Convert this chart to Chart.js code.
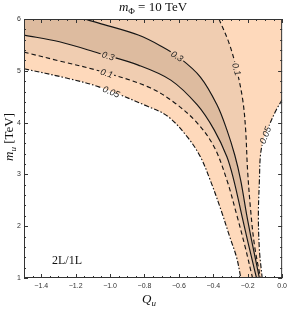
<!DOCTYPE html>
<html>
<head>
<meta charset="utf-8">
<script src="https://cdn.jsdelivr.net/npm/chart.js@4.4.1/dist/chart.umd.min.js"></script>
<style>
  html, body { margin: 0; padding: 0; background: #fff; }
  #c { display: block; }
</style>
</head>
<body>
<canvas id="c" width="291" height="309"></canvas>
<script>
// axis ticks
const qTicks = [-1.4, -1.2, -1.0, -0.8, -0.6, -0.4, -0.2, 0.0];
const mTicks = [1, 2, 3, 4, 5, 6];

// contours, [Q_u, m_u]
const c005left = [[-1.5, 5.04], [-1.254, 4.86], [-1.065, 4.69], [-0.779, 4.31], [-0.664, 4.12], [-0.55, 3.72],
  [-0.475, 3.34], [-0.418, 2.89], [-0.355, 2.31], [-0.304, 1.79], [-0.264, 1.39], [-0.24, 1.0]];
const c010left = [[-1.5, 5.36], [-1.294, 5.19], [-1.065, 5.0], [-0.779, 4.69], [-0.624, 4.38], [-0.493, 3.99],
  [-0.395, 3.53], [-0.321, 2.89], [-0.264, 2.22], [-0.218, 1.64], [-0.172, 1.0]];
const c030low = [[-1.5, 5.69], [-1.294, 5.56], [-1.065, 5.34], [-0.836, 5.11], [-0.647, 4.82], [-0.493, 4.34],
  [-0.395, 3.86], [-0.321, 3.34], [-0.281, 2.89], [-0.235, 2.22], [-0.195, 1.64], [-0.149, 1.0]];
const c030up = [[-1.151, 6.0], [-1.065, 5.92], [-0.836, 5.69], [-0.70, 5.47], [-0.60, 5.26], [-0.475, 4.88],
  [-0.378, 4.34], [-0.321, 3.86], [-0.275, 3.37], [-0.241, 2.89], [-0.206, 2.22], [-0.172, 1.64], [-0.132, 1.0]];
const c010right = [[-0.367, 6.0], [-0.309, 5.54], [-0.264, 5.02], [-0.229, 4.44], [-0.212, 3.86], [-0.201, 3.09],
  [-0.183, 2.31], [-0.161, 1.64], [-0.126, 1.0]];
const c005right = [[0, 4.44], [-0.035, 4.24], [-0.08, 3.91], [-0.109, 3.66], [-0.126, 3.37], [-0.132, 2.89],
  [-0.138, 2.22], [-0.132, 1.54], [-0.116, 1.0]];

// contour labels: text, curve, rough spot
const contourLabels = [
  {text: '0.3', curve: c030low, at: [-1.01, 5.30]},
  {text: '0.3', curve: c030up, at: [-0.607, 5.30]},
  {text: '0.1', curve: c010left, at: [-1.02, 4.95]},
  {text: '0.05', curve: c005left, at: [-0.99, 4.62]},
  {text: '0.1', curve: c010right, at: [-0.255, 5.04]},
  {text: '0.05', curve: c005right, at: [-0.10, 3.76]}
];

const TENSION = 0.35;
const toXY = arr => arr.map(p => ({x: p[0], y: p[1]}));
const rev = arr => arr.slice().reverse();
// repeat end points so the spline of a region edge matches the contour line
const dupEnds = c => [c[0]].concat(c, [c[c.length - 1]]);

// filled regions (closed shapes), corner points are the plot corners
const region005 = [[-1.5, 6]].concat(dupEnds(c005left), dupEnds(rev(c005right)), [[0, 6]]);
const region010 = [[-1.5, 6]].concat(dupEnds(c010left), dupEnds(rev(c010right)), [[0, 6]]);
const region030 = [[-1.5, 6]].concat(dupEnds(c030low), dupEnds(rev(c030up)), [[0, 6]]);

const lightCol = 'rgb(254,217,187)';
const midCol = 'rgb(240,205,177)';
const darkCol = 'rgb(221,187,159)';
const lineCol = '#151515';
const labelFont = 'italic 9px "Liberation Sans"';

function fillSet(pts, col, ord) {
  return {data: toXY(pts), fill: 'shape', backgroundColor: col, borderWidth: 0,
    borderColor: 'rgba(0,0,0,0)', pointRadius: 0, order: ord, clip: false, tension: TENSION};
}
function lineSet(pts, dash) {
  return {data: toXY(pts), fill: false, borderColor: lineCol, borderWidth: 1.15,
    borderDash: dash, pointRadius: 0, order: 0, contour: true, tension: TENSION};
}

function toPx(chart, p) {
  return [chart.scales.x.getPixelForValue(p[0]), chart.scales.y.getPixelForValue(p[1])];
}

function labelBoxes(chart) {
  const ctx = chart.ctx;
  ctx.save();
  ctx.font = labelFont;
  const boxes = contourLabels.map(function (l) {
    const p = toPx(chart, l.at);
    let best = null, bd = Infinity;
    for (let i = 0; i < l.curve.length - 1; i++) {
      const a = toPx(chart, l.curve[i]), b = toPx(chart, l.curve[i + 1]);
      const dx = b[0] - a[0], dy = b[1] - a[1];
      let t = ((p[0] - a[0]) * dx + (p[1] - a[1]) * dy) / (dx * dx + dy * dy);
      t = Math.max(0, Math.min(1, t));
      const qx = a[0] + t * dx, qy = a[1] + t * dy;
      const d = (qx - p[0]) ** 2 + (qy - p[1]) ** 2;
      if (d < bd) { bd = d; best = {x: qx, y: qy, ang: Math.atan2(dy, dx)}; }
    }
    let ang = best.ang;
    if (ang > Math.PI / 2) ang -= Math.PI;
    if (ang < -Math.PI / 2) ang += Math.PI;
    return {x: best.x, y: best.y, ang: ang, w: ctx.measureText(l.text).width + 3, h: 9, text: l.text};
  });
  ctx.restore();
  return boxes;
}

// break the contour lines under their labels
const contourLabelPlugin = {
  id: 'contourLabels',
  beforeDatasetDraw(chart, args) {
    if (!chart.data.datasets[args.index].contour) return;
    const ctx = chart.ctx;
    ctx.save();
    ctx.beginPath();
    ctx.rect(0, 0, chart.width, chart.height);
    labelBoxes(chart).forEach(function (b) {
      const c = Math.cos(b.ang), s = Math.sin(b.ang);
      const hw = b.w / 2, hh = b.h / 2;
      const pts = [[-hw, -hh], [hw, -hh], [hw, hh], [-hw, hh]].map(q =>
        [b.x + q[0] * c - q[1] * s, b.y + q[0] * s + q[1] * c]);
      ctx.moveTo(pts[0][0], pts[0][1]);
      for (let i = 1; i < 4; i++) ctx.lineTo(pts[i][0], pts[i][1]);
      ctx.closePath();
    });
    ctx.clip('evenodd');
  },
  afterDatasetDraw(chart, args) {
    if (!chart.data.datasets[args.index].contour) return;
    chart.ctx.restore();
  },
  afterDatasetsDraw(chart) {
    const ctx = chart.ctx;
    ctx.save();
    ctx.font = labelFont;
    ctx.fillStyle = '#222';
    ctx.textAlign = 'center';
    ctx.textBaseline = 'middle';
    labelBoxes(chart).forEach(function (b) {
      ctx.save();
      ctx.translate(b.x, b.y);
      ctx.rotate(b.ang);
      ctx.fillText(b.text, 0, 0.5);
      ctx.restore();
    });
    ctx.restore();
  }
};

// text made of pieces with sub scripts
function drawPieces(ctx, pieces, cx, baseY) {
  let total = 0;
  pieces.forEach(function (p) { ctx.font = p.f; total += ctx.measureText(p.t).width; });
  let x = cx - total / 2;
  pieces.forEach(function (p) {
    ctx.font = p.f;
    ctx.fillText(p.t, x, baseY + (p.dy || 0));
    x += ctx.measureText(p.t).width;
  });
}

// mathematica style frame: inward ticks on all sides, titles
const framePlugin = {
  id: 'frame',
  afterDraw(chart) {
    const ctx = chart.ctx;
    const a = chart.chartArea;
    const xs = chart.scales.x, ys = chart.scales.y;
    ctx.save();
    ctx.strokeStyle = '#333';
    ctx.lineWidth = 1;
    ctx.strokeRect(a.left + 0.5, a.top + 0.5, a.right - a.left - 1, a.bottom - a.top - 1);
    ctx.beginPath();
    for (let i = 0; i <= 30; i++) {
      const v = -1.5 + i * 0.05;
      const x = Math.round(xs.getPixelForValue(v)) + 0.5;
      const len = (i % 4 === 2) ? 4 : 2;
      ctx.moveTo(x, a.bottom); ctx.lineTo(x, a.bottom - len);
      ctx.moveTo(x, a.top); ctx.lineTo(x, a.top + len);
    }
    for (let i = 0; i <= 25; i++) {
      const v = 1 + i * 0.2;
      const y = Math.round(ys.getPixelForValue(v)) + 0.5;
      const len = (i % 5 === 0) ? 4 : 2;
      ctx.moveTo(a.left, y); ctx.lineTo(a.left + len, y);
      ctx.moveTo(a.right, y); ctx.lineTo(a.right - len, y);
    }
    ctx.stroke();

    ctx.fillStyle = '#111';
    ctx.textBaseline = 'alphabetic';
    ctx.textAlign = 'left';
    drawPieces(ctx, [
      {t: 'm', f: 'italic 13px "Liberation Serif"'},
      {t: 'Φ', f: '9px "Liberation Serif"', dy: 2.5},
      {t: ' = 10 TeV', f: '13px "Liberation Serif"'}
    ], 153, 11);
    drawPieces(ctx, [
      {t: 'Q', f: 'italic 13px "Liberation Serif"'},
      {t: 'u', f: 'italic 9px "Liberation Serif"', dy: 2.5}
    ], 149, 303);
    ctx.save();
    ctx.translate(13, 137);
    ctx.rotate(-Math.PI / 2);
    drawPieces(ctx, [
      {t: 'm', f: 'italic 13px "Liberation Serif"'},
      {t: 'u', f: 'italic 9px "Liberation Serif"', dy: 2.5},
      {t: ' [TeV]', f: '13px "Liberation Serif"'}
    ], 0, 0);
    ctx.restore();
    ctx.font = '12px "Liberation Serif"';
    ctx.fillText('2L/1L', 52, 264);
    ctx.restore();
  }
};

new Chart(document.getElementById('c'), {
  type: 'line',
  data: {
    datasets: [
      fillSet(region005, lightCol, 30),
      fillSet(region010, midCol, 20),
      fillSet(region030, darkCol, 10),
      lineSet(c005left, [5, 2, 1.5, 2]),
      lineSet(c005right, [5, 2, 1.5, 2]),
      lineSet(c010left, [4.5, 3]),
      lineSet(c010right, [4.5, 3]),
      lineSet(c030low, []),
      lineSet(c030up, [])
    ]
  },
  options: {
    responsive: false,
    animation: false,
    devicePixelRatio: 1,
    layout: {padding: {left: 0, right: 5, top: 19, bottom: 0}},
    plugins: {legend: {display: false}, tooltip: {enabled: false}},
    scales: {
      x: {
        type: 'linear', min: -1.5, max: 0,
        afterBuildTicks: function (s) { s.ticks = qTicks.map(v => ({value: v})); },
        afterFit: function (s) { s.height = 31; },
        grid: {display: false, drawTicks: false},
        border: {display: false},
        ticks: {
          padding: 4, color: '#333', maxRotation: 0, autoSkip: false,
          font: {family: 'Liberation Sans', size: 7},
          callback: v => v.toFixed(1).replace('-', '\u2212')
        }
      },
      y: {
        type: 'linear', min: 1, max: 6,
        afterBuildTicks: function (s) { s.ticks = mTicks.map(v => ({value: v})); },
        afterFit: function (s) { s.width = 24; },
        grid: {display: false, drawTicks: false},
        border: {display: false},
        ticks: {
          padding: 3, color: '#333', autoSkip: false,
          font: {family: 'Liberation Sans', size: 7},
          callback: v => String(v)
        }
      }
    }
  },
  plugins: [contourLabelPlugin, framePlugin]
});
</script>
</body>
</html>
